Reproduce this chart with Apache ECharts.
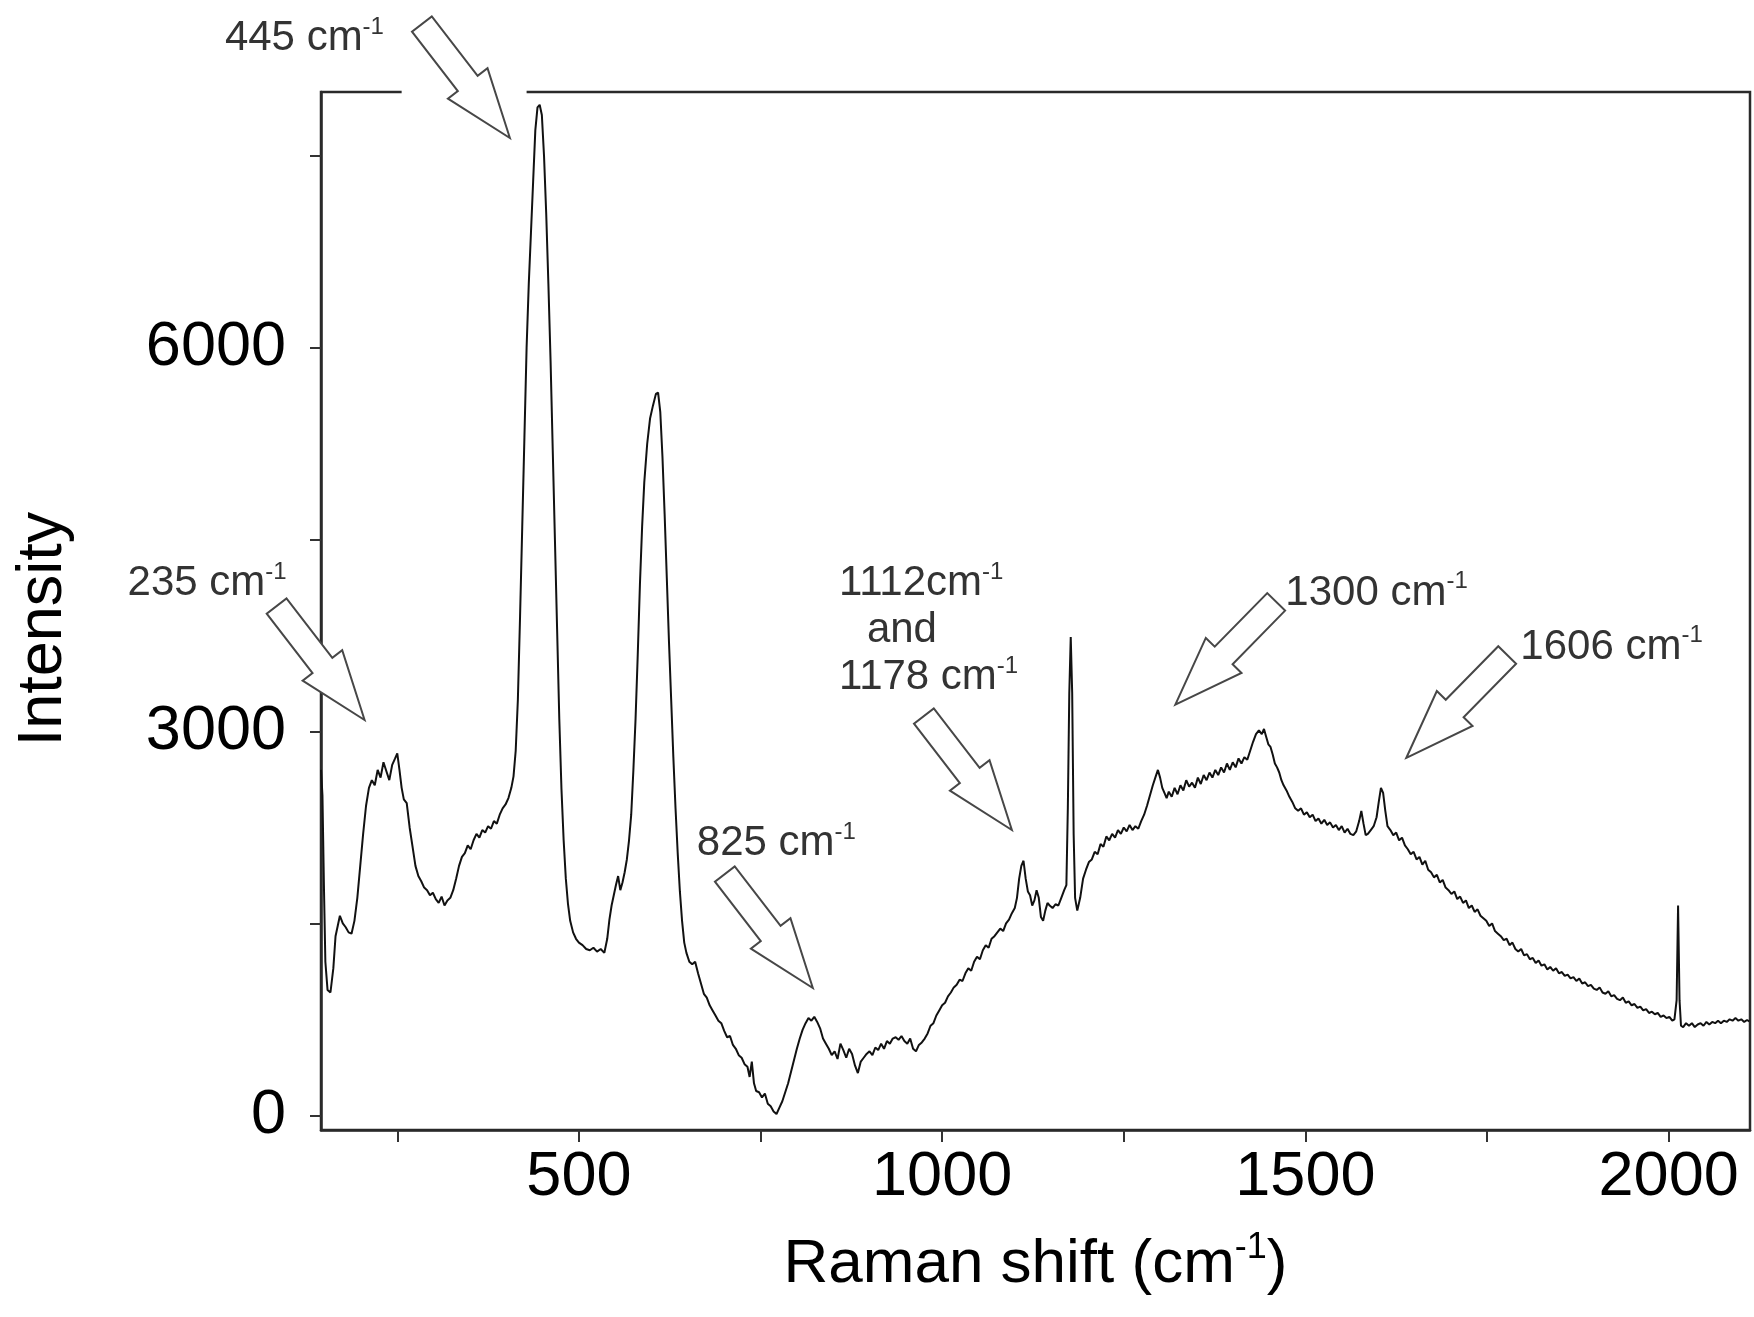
<!DOCTYPE html>
<html><head><meta charset="utf-8">
<script src="https://cdn.jsdelivr.net/npm/echarts@6/dist/echarts.min.js"></script>
<style>html,body{margin:0;padding:0;background:#fff}#c{width:1754px;height:1317px}</style>
</head><body><div id="c"></div>
<script>
// ---- data ----
const ramanShift = [145,147,149,151,154,158,162,165,168,171,175,179,183,187,191,195,199,203,207,211,215,219,223,227,231,235,239,243,247,250,253,256,259,263,267,271,275,279,283,287,291,295,299,303,307,311,315,319,323,327,331,335,339,343,347,351,355,359,363,367,371,375,379,383,387,391,395,399,403,407,410,413,416,419,422,425,428,431,434,437,440,443,446,449,452,455,458,461,464,467,470,473,476,479,482,485,488,492,496,500,505,510,515,520,525,530,535,539,542,545,548,551,554,557,560,563,566,569,572,575,578,581,584,587,590,594,598,602,606,609,612,615,618,621,624,627,630,633,636,639,642,645,648,652,656,660,664,668,672,676,680,684,688,692,696,700,704,708,712,716,720,724,728,732,735,738,741,744,748,752,756,760,764,768,772,776,780,784,788,792,796,800,804,808,812,816,820,824,828,832,836,840,844,848,852,856,860,864,868,872,876,880,884,888,892,896,900,904,908,912,916,920,924,928,932,936,940,944,948,952,956,960,964,968,972,976,980,984,988,992,996,1000,1004,1008,1012,1016,1020,1024,1028,1032,1036,1040,1044,1048,1052,1056,1060,1064,1068,1072,1076,1080,1084,1088,1092,1096,1100,1103,1106,1109,1112,1115,1118,1121,1124,1127,1130,1133,1136,1139,1142,1145,1148,1152,1156,1160,1164,1168,1171,1173,1175,1177,1179,1181,1183,1186,1190,1194,1198,1202,1206,1210,1214,1218,1222,1226,1230,1234,1238,1242,1246,1250,1254,1258,1262,1266,1270,1274,1278,1282,1286,1290,1294,1297,1300,1303,1306,1309,1312,1316,1320,1324,1328,1332,1336,1340,1344,1348,1352,1356,1360,1364,1368,1372,1376,1380,1384,1388,1392,1396,1400,1404,1408,1412,1416,1420,1424,1428,1432,1436,1440,1443,1446,1449,1452,1455,1458,1461,1464,1467,1470,1474,1478,1482,1486,1490,1494,1498,1502,1506,1510,1514,1518,1522,1526,1530,1534,1538,1542,1546,1550,1554,1558,1562,1566,1570,1574,1577,1580,1583,1586,1590,1594,1598,1601,1604,1607,1610,1613,1617,1621,1625,1629,1633,1637,1641,1645,1649,1653,1657,1661,1665,1669,1673,1677,1681,1685,1689,1693,1697,1701,1705,1709,1713,1717,1721,1725,1729,1733,1737,1741,1745,1749,1753,1757,1761,1765,1769,1773,1777,1781,1785,1789,1793,1797,1801,1805,1809,1813,1817,1821,1825,1829,1833,1837,1841,1845,1849,1853,1857,1861,1865,1869,1873,1877,1881,1885,1889,1893,1897,1901,1905,1909,1913,1917,1921,1925,1929,1933,1937,1941,1945,1949,1953,1957,1961,1965,1969,1973,1977,1981,1985,1989,1993,1997,2001,2005,2008,2011,2013,2015,2017,2020,2024,2028,2032,2036,2040,2044,2048,2052,2056,2060,2064,2068,2072,2076,2080,2084,2088,2092,2096,2100,2104,2108,2111];
const intensity = [2700,2500,1800,1200,980,960,1150,1400,1480,1560,1500,1470,1430,1420,1520,1700,1950,2200,2420,2560,2620,2580,2700,2640,2760,2690,2620,2740,2790,2830,2700,2560,2470,2440,2250,2100,1950,1870,1830,1780,1760,1720,1740,1690,1660,1710,1640,1680,1700,1760,1850,1950,2020,2050,2110,2080,2150,2200,2170,2230,2210,2260,2240,2300,2280,2350,2400,2430,2480,2560,2650,2850,3250,3900,4600,5300,6000,6500,6900,7300,7700,7880,7900,7820,7500,7050,6500,5900,5200,4500,3800,3100,2550,2150,1850,1650,1520,1430,1380,1350,1330,1300,1290,1310,1280,1300,1270,1380,1530,1640,1720,1800,1870,1760,1820,1900,2000,2150,2350,2700,3100,3600,4150,4600,4950,5250,5450,5550,5640,5650,5500,5150,4700,4200,3700,3250,2800,2400,2050,1750,1520,1350,1270,1200,1180,1200,1110,1030,950,920,860,820,780,740,720,660,610,620,550,520,470,450,400,380,300,420,250,190,180,140,170,90,70,30,10,60,110,180,250,340,430,520,600,670,720,760,740,770,730,680,600,560,520,470,500,440,560,510,450,520,480,390,330,420,450,480,500,470,530,510,560,520,580,560,600,610,590,620,580,560,600,520,500,550,570,600,640,700,720,780,820,860,880,930,960,1000,1020,1060,1050,1110,1150,1130,1200,1240,1220,1290,1330,1310,1380,1400,1430,1460,1440,1500,1530,1580,1620,1700,1850,1950,1990,1850,1750,1720,1640,1680,1760,1700,1550,1520,1600,1660,1640,1620,1650,1640,1700,1760,1800,2400,3300,3740,3300,2200,1700,1600,1700,1850,1920,1980,2000,2060,2040,2120,2100,2180,2150,2200,2170,2230,2200,2250,2220,2270,2230,2260,2240,2300,2350,2420,2500,2580,2650,2700,2640,2560,2520,2480,2530,2490,2560,2510,2580,2540,2620,2570,2600,2560,2640,2590,2660,2620,2680,2640,2700,2660,2720,2680,2750,2700,2760,2720,2790,2750,2800,2780,2850,2920,2980,3010,2980,3020,2960,2900,2880,2820,2750,2720,2680,2620,2580,2540,2490,2450,2400,2380,2400,2350,2370,2330,2350,2300,2320,2280,2310,2270,2290,2250,2270,2230,2260,2210,2240,2200,2190,2220,2300,2380,2280,2190,2200,2230,2260,2330,2450,2560,2520,2380,2260,2230,2190,2210,2150,2170,2110,2080,2040,2060,2000,2020,1960,1990,1920,1900,1860,1880,1820,1840,1780,1760,1730,1750,1690,1710,1660,1680,1620,1640,1590,1610,1560,1540,1520,1480,1500,1440,1420,1400,1370,1380,1330,1350,1300,1280,1300,1250,1260,1220,1230,1190,1210,1170,1180,1140,1160,1130,1150,1110,1120,1090,1100,1070,1080,1050,1070,1030,1040,1010,1020,990,980,1000,960,950,970,930,940,910,900,920,880,890,860,870,840,850,820,830,800,810,790,800,770,780,760,770,740,750,900,1640,900,700,690,720,700,720,690,710,720,700,730,710,730,720,740,720,740,730,750,740,760,740,750,730,745,735];

const xTickValues = [250, 500, 750, 1000, 1250, 1500, 1750, 2000];
const xLabelValues = [500, 1000, 1500, 2000];
const yTickValues = [0, 1500, 3000, 4500, 6000, 7500];
const yLabelValues = [0, 3000, 6000];

// annotated peaks: arrow tip positions (data coords) and label lines
const peakTipX = [405, 205, 822, 1096, 1321, 1639];
const peakTipY = [7640, 3090, 995, 2230, 3210, 2795];
const peakLabels = [['445 cm'], ['235 cm'], ['825 cm'], ['1112cm', 'and', '1178 cm'], ['1300 cm'], ['1606 cm']];

// ---- layout / style (pixel offsets of labels relative to arrow tip) ----
const annoLayout = [
  {dir: 'dr', tx: -285, ty: -85},
  {dir: 'dr', tx: -237, ty: -122},
  {dir: 'dr', tx: -116, ty: -130},
  {dir: 'dr', tx: -173, ty: -232},
  {dir: 'dl', tx: 110, ty: -97},
  {dir: 'dl', tx: 114, ty: -96}
];
const FONT = "'Liberation Sans', Arial, sans-serif";

const chart = echarts.init(document.getElementById('c'), null, {renderer: 'canvas'});

function renderArrow(params, api) {
  const i = api.value(2);
  const p = api.coord([api.value(0), api.value(1)]);
  const L = annoLayout[i];
  const ang = L.dir === 'dr' ? Math.atan2(114, 88) : Math.atan2(103, -101);
  const len = 144, H = 69, w = 12.5, h = 25;
  const local = [[0, 0], [-H, -h], [-H, -w], [-len, -w], [-len, w], [-H, w], [-H, h]];
  const c = Math.cos(ang), s = Math.sin(ang);
  const pts = local.map(([a, b]) => [p[0] + a * c - b * s, p[1] + a * s + b * c]);
  const lines = peakLabels[i];
  const txt = lines.map(t => t === 'and' ? '{a|and}' : '{t|' + t + '}{s|-1}').join('\n');
  return {
    type: 'group',
    children: [
      {type: 'polygon', shape: {points: pts},
       style: {fill: '#fff', stroke: '#474747', lineWidth: 2, lineJoin: 'miter'}},
      {type: 'text', x: p[0] + L.tx, y: p[1] + L.ty - 38,
       style: {
         text: txt, align: 'left', verticalAlign: 'top', fill: '#333',
         rich: {
           t: {fontSize: 42, fontFamily: FONT, lineHeight: 47, fill: '#333'},
           a: {fontSize: 42, fontFamily: FONT, lineHeight: 47, fill: '#333', padding: [0, 0, 0, 28]},
           s: {fontSize: 24, fontFamily: FONT, lineHeight: 38, verticalAlign: 'top', fill: '#333'}
         }
       }}
    ]
  };
}

const plain = v => String(v);

const option = {
  animation: false,
  backgroundColor: '#fff',
  grid: {left: 321, top: 92, right: 4, bottom: 187, show: true,
         borderColor: '#2a2a2a', borderWidth: 2.5, outerBoundsMode: 'none', containLabel: false},
  xAxis: {
    type: 'value', min: 145, max: 2112,
    axisLine: {show: true, onZero: false, lineStyle: {color: '#2a2a2a', width: 2.5}},
    splitLine: {show: false},
    axisTick: {show: true, inside: false, customValues: xTickValues, length: 12, lineStyle: {color: '#333', width: 2}},
    axisLabel: {customValues: xLabelValues, formatter: plain, margin: 16, fontSize: 63, color: '#000', fontFamily: FONT},
    name: '{t|Raman shift (cm}{s|-1}{t|)}',
    nameLocation: 'middle', nameGap: 100,
    nameTextStyle: {
      rich: {
        t: {fontSize: 62, fontFamily: FONT, lineHeight: 70, color: '#000'},
        s: {fontSize: 36, fontFamily: FONT, lineHeight: 23, verticalAlign: 'top', color: '#000'}
      }
    }
  },
  yAxis: {
    type: 'value', min: -115, max: 8000,
    axisLine: {show: true, onZero: false, lineStyle: {color: '#2a2a2a', width: 2.5}},
    splitLine: {show: false},
    axisTick: {show: true, inside: false, customValues: yTickValues, length: 11, lineStyle: {color: '#333', width: 2}},
    axisLabel: {customValues: yLabelValues, formatter: plain, margin: 35, fontSize: 63, color: '#000', fontFamily: FONT}
  },
  series: [
    {
      type: 'line', showSymbol: false, symbol: 'none',
      data: ramanShift.map((x, i) => [x, intensity[i]]),
      lineStyle: {color: '#111', width: 2}, z: 3
    },
    {
      type: 'custom', coordinateSystem: 'cartesian2d', clip: false, silent: true, z: 4,
      renderItem: renderArrow,
      data: peakTipX.map((x, i) => [x, peakTipY[i], i])
    }
  ]
};
chart.setOption(option);

// white gap in the top frame line where the 445 cm-1 arrow enters
const gx0 = chart.convertToPixel({xAxisIndex: 0}, 256);
const gx1 = chart.convertToPixel({xAxisIndex: 0}, 428);
const gy = chart.convertToPixel({yAxisIndex: 0}, 8000);
chart.setOption({graphic: [
  {type: 'text', x: 44, y: 629, rotation: Math.PI / 2,
   style: {text: 'Intensity', fontSize: 63, fontFamily: FONT, fill: '#000', align: 'center', verticalAlign: 'middle'}},
  {type: 'rect', z: 1, shape: {x: gx0, y: gy - 6, width: gx1 - gx0, height: 12}, style: {fill: '#fff'}}
]});
</script></body></html>
